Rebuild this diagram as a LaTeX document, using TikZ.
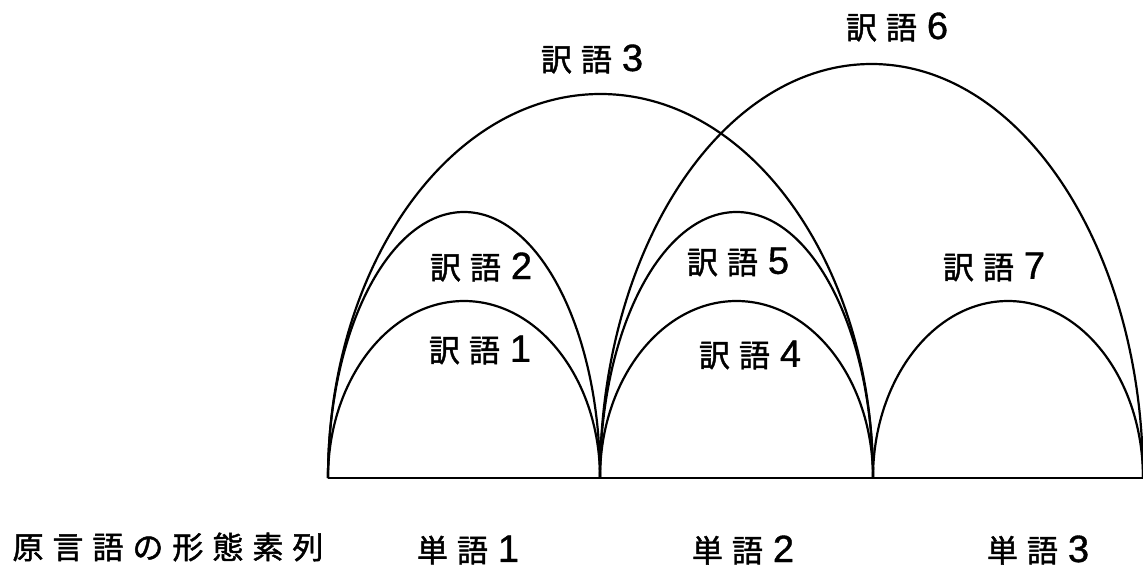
\documentclass[tikz,border=0pt]{standalone}
\usepackage{fontspec}
\newfontfamily\jpfont[LetterSpace=29,FakeBold=1.5]{Noto Sans CJK JP}
\newfontfamily\numfont[FakeBold=1]{Liberation Sans}
\newcommand{\lblnum}[1]{\hspace{10pt}{\numfont\fontsize{38}{38}\selectfont #1}}

\begin{document}
\begin{tikzpicture}[
  x=1pt, y=1pt,
  line width=2.2pt,
  lbl/.style={font=\jpfont\fontsize{31}{31}\selectfont, inner sep=0pt}
  ]
\useasboundingbox (0,0) rectangle (1143,-573);
%\draw [ultra thin, lightgray] (0,0) grid [step=50] (1143,-573);
\coordinate (b0) at (328,-478);
\coordinate (b1) at (600,-478);
\coordinate (b2) at (873,-478);
\coordinate (b3) at (1143,-478);
\draw (b0) -- (b3);
\draw (b0) arc [start angle=180, end angle=0, x radius=136, y radius=177];
\draw (b0) arc [start angle=180, end angle=0, x radius=136, y radius=266];
\draw (b0) arc [start angle=180, end angle=0, x radius=272.5, y radius=384];
\draw (b1) arc [start angle=180, end angle=0, x radius=136.5, y radius=177];
\draw (b1) arc [start angle=180, end angle=0, x radius=136.5, y radius=266];
\draw (b1) arc [start angle=180, end angle=0, x radius=271.5, y radius=414];
\draw (b2) arc [start angle=180, end angle=0, x radius=135, y radius=177];
\node [lbl] (t1) at (480,-350) {訳語\lblnum{1}};
\node [lbl] (t2) at (481,-267) {訳語\lblnum{2}};
\node [lbl] (t3) at (592,-59) {訳語\lblnum{3}};
\node [lbl] (t4) at (750,-355) {訳語\lblnum{4}};
\node [lbl] (t5) at (738,-262) {訳語\lblnum{5}};
\node [lbl] (t6) at (897,-27) {訳語\lblnum{6}};
\node [lbl] (t7) at (994,-267) {訳語\lblnum{7}};
\node [lbl] (src) at (168,-547) {原言語の形態素列};
\node [lbl] (w1) at (468,-550) {単語\lblnum{1}};
\node [lbl] (w2) at (743,-550) {単語\lblnum{2}};
\node [lbl] (w3) at (1038,-550) {単語\lblnum{3}};
\end{tikzpicture}
\end{document}
